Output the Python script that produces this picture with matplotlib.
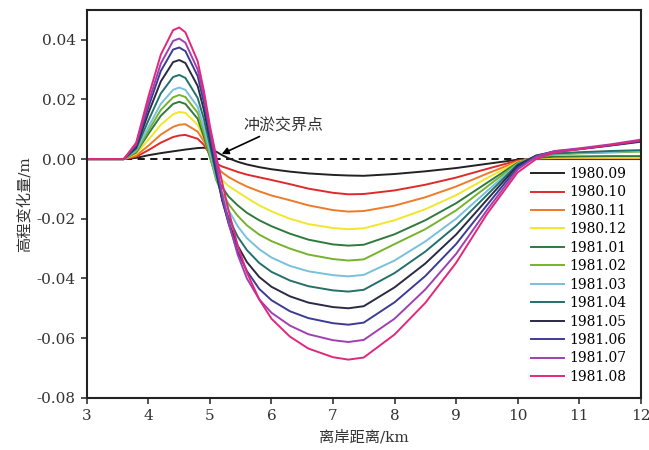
import numpy as np
import matplotlib
matplotlib.use('Agg')
import matplotlib.pyplot as plt
from matplotlib.ticker import FormatStrFormatter

plt.rcParams['font.family'] = ['DejaVu Serif', 'Noto Sans CJK SC']
plt.rcParams['axes.unicode_minus'] = True

#
# data: distance from shore (km) and elevation change (m)
#
dist_km = [3.0, 3.6, 3.8, 4.0, 4.2, 4.4, 4.5, 4.6, 4.8, 4.9, 5.0, 5.1, 5.2, 5.3, 5.45, 5.6,
           5.8, 6.0, 6.3, 6.6, 7.0, 7.25, 7.5, 8.0, 8.5, 9.0, 9.5, 10.0, 10.3, 10.6, 11.0, 11.5, 12.0]

dz_198009 = [0, 0, 0.0004, 0.0013, 0.002, 0.0026, 0.0029, 0.0032, 0.0037, 0.0038, 0.0035, 0.0025,
             0.0013, 0.0003, -0.0009, -0.0018, -0.0027, -0.0034, -0.0042, -0.0048, -0.0053, -0.0055,
             -0.0056, -0.0050, -0.0041, -0.0030, -0.0016, -0.0002, 0, 0, 0, 0, 0]
dz_198010 = [0, 0, 0.0008, 0.003, 0.0055, 0.0074, 0.0079, 0.0081, 0.0068, 0.0048, 0.0015, -0.0015,
             -0.0025, -0.0032, -0.0043, -0.0052, -0.0061, -0.0070, -0.0084, -0.0099, -0.0113, -0.0118,
             -0.0117, -0.0105, -0.0086, -0.0062, -0.0033, -0.0005, 0.0002, 0.0003, 0.0003, 0.0003, 0.0003]
dz_198011 = [0, 0, 0.0012, 0.0045, 0.0082, 0.0108, 0.0115, 0.0117, 0.0092, 0.006, 0.0015, -0.0025,
             -0.0045, -0.006, -0.0077, -0.0092, -0.0108, -0.0122, -0.0138, -0.0155, -0.0171, -0.0176,
             -0.0174, -0.0156, -0.0128, -0.0092, -0.0049, -0.0008, 0.0002, 0.0003, 0.0003, 0.0003, 0.0003]
dz_198012 = [0, 0, 0.0018, 0.0065, 0.0115, 0.0150, 0.0158, 0.0155, 0.0115, 0.007, 0.001, -0.004,
             -0.007, -0.009, -0.011, -0.013, -0.0155, -0.0175, -0.020, -0.0218, -0.0231, -0.0235,
             -0.0232, -0.0205, -0.0168, -0.0121, -0.0064, -0.001, 0.0003, 0.0005, 0.0005, 0.0005, 0.0005]
dz_198101 = [0, 0, 0.0022, 0.0085, 0.0145, 0.0185, 0.0192, 0.0185, 0.0135, 0.0075, 0.0005, -0.006,
             -0.0095, -0.0125, -0.0155, -0.0180, -0.0205, -0.0225, -0.0250, -0.0270, -0.0286, -0.0290,
             -0.0287, -0.0252, -0.0205, -0.0148, -0.0080, -0.0012, 0.0004, 0.0008, 0.0009, 0.001, 0.001]
dz_198102 = [0, 0, 0.0025, 0.0095, 0.0165, 0.0207, 0.0215, 0.0208, 0.0155, 0.009, 0.001, -0.007,
             -0.0115, -0.015, -0.019, -0.0222, -0.0253, -0.0275, -0.0300, -0.0320, -0.0335, -0.0340,
             -0.0336, -0.0285, -0.0235, -0.0172, -0.0093, -0.0014, 0.0008, 0.0015, 0.0019, 0.0022, 0.0025]
dz_198103 = [0, 0, 0.003, 0.0108, 0.0185, 0.0232, 0.0240, 0.0232, 0.0175, 0.0108, 0.0025, -0.006,
             -0.0125, -0.017, -0.0225, -0.0265, -0.0302, -0.0330, -0.0358, -0.0376, -0.0389, -0.0393,
             -0.0388, -0.0340, -0.0276, -0.0200, -0.0108, -0.0016, 0.0009, 0.0017, 0.0021, 0.0024, 0.0027]
dz_198104 = [0, 0, 0.0035, 0.013, 0.022, 0.0275, 0.0282, 0.0272, 0.0205, 0.0135, 0.0045, -0.005,
             -0.0135, -0.0195, -0.026, -0.0305, -0.0348, -0.0378, -0.0407, -0.0426, -0.0440, -0.0444,
             -0.0438, -0.0382, -0.0310, -0.0224, -0.0121, -0.0018, 0.001, 0.0019, 0.0023, 0.0027, 0.003]
dz_198105 = [0, 0, 0.004, 0.0155, 0.026, 0.0325, 0.0332, 0.0322, 0.0245, 0.0165, 0.0065, -0.004,
             -0.014, -0.021, -0.029, -0.0345, -0.0395, -0.0428, -0.0460, -0.0481, -0.0496, -0.0500,
             -0.0493, -0.0430, -0.0350, -0.0253, -0.0137, -0.0022, 0.0012, 0.0025, 0.0033, 0.0045, 0.0058]
dz_198106 = [0, 0, 0.0045, 0.0175, 0.0295, 0.0367, 0.0374, 0.0362, 0.0278, 0.019, 0.008, -0.003,
             -0.0135, -0.0215, -0.031, -0.0375, -0.0435, -0.0473, -0.0510, -0.0533, -0.0550, -0.0555,
             -0.0548, -0.0480, -0.0392, -0.0285, -0.0155, -0.0028, 0.001, 0.0026, 0.0034, 0.0046, 0.006]
dz_198107 = [0, 0, 0.005, 0.019, 0.032, 0.0396, 0.0404, 0.039, 0.030, 0.021, 0.0095, -0.001,
             -0.012, -0.021, -0.032, -0.040, -0.047, -0.0515, -0.0558, -0.0587, -0.0607, -0.0613,
             -0.0606, -0.0535, -0.0437, -0.0318, -0.0172, -0.0035, 0.0008, 0.0027, 0.0036, 0.0049, 0.0065]
dz_198108 = [0, 0, 0.0055, 0.021, 0.035, 0.0432, 0.0441, 0.0425, 0.0328, 0.023, 0.011, 0.001,
             -0.008, -0.017, -0.029, -0.038, -0.047, -0.0535, -0.0595, -0.0635, -0.0664, -0.0672,
             -0.0665, -0.0588, -0.0482, -0.0348, -0.0185, -0.0045, 0.0, 0.0022, 0.0033, 0.0047, 0.0062]

labels = ['1980.09', '1980.10', '1980.11', '1980.12', '1981.01', '1981.02',
          '1981.03', '1981.04', '1981.05', '1981.06', '1981.07', '1981.08']
series = [dz_198009, dz_198010, dz_198011, dz_198012, dz_198101, dz_198102,
          dz_198103, dz_198104, dz_198105, dz_198106, dz_198107, dz_198108]
colors = ['#222222', '#e02a2a', '#ee7a2a', '#f2e62a', '#2f7a3c', '#76b22e',
          '#78c0dc', '#24706a', '#2a2a44', '#3c3c94', '#a040b0', '#e0287c']

#
# figure
#
fig = plt.figure(figsize=(6.49, 4.5), dpi=100)
ax = fig.add_axes([0.134, 0.116, 0.853, 0.862])

ax.axhline(0, color='black', lw=1.3, ls=(0, (4, 3)), zorder=1)
for dz, lab, c in zip(series, labels, colors):
    ax.plot(dist_km, dz, color=c, lw=1.4, label=lab, solid_joinstyle='round')

ax.set_xlim(3, 12)
ax.set_ylim(-0.08, 0.05)
ax.set_xticks(range(3, 13))
ax.set_yticks([-0.08, -0.06, -0.04, -0.02, 0.0, 0.02, 0.04])
ax.yaxis.set_major_formatter(FormatStrFormatter('%.2f'))
ax.tick_params(direction='out', length=4, width=1.2, labelsize=11, colors='#333333', pad=4)
for s in ax.spines.values():
    s.set_linewidth(1.5)
    s.set_color('#222222')

ax.set_xlabel('离岸距离/km', fontsize=11, color='#333333', labelpad=5)
ax.set_ylabel('高程变化量/m', fontsize=11, color='#333333', labelpad=4)

ax.annotate('冲淤交界点', xy=(5.19, 0.0017), xytext=(5.55, 0.0085),
            fontsize=11.5, color='#333333', va='bottom',
            arrowprops=dict(arrowstyle='-|>', color='black', lw=1.2,
                            shrinkA=0, shrinkB=0, mutation_scale=10))

ax.legend(loc='lower right', frameon=False, fontsize=10, handlelength=2.4,
          labelspacing=0.32, handletextpad=0.4, borderaxespad=0.6)

fig.savefig('out.png', dpi=100)
